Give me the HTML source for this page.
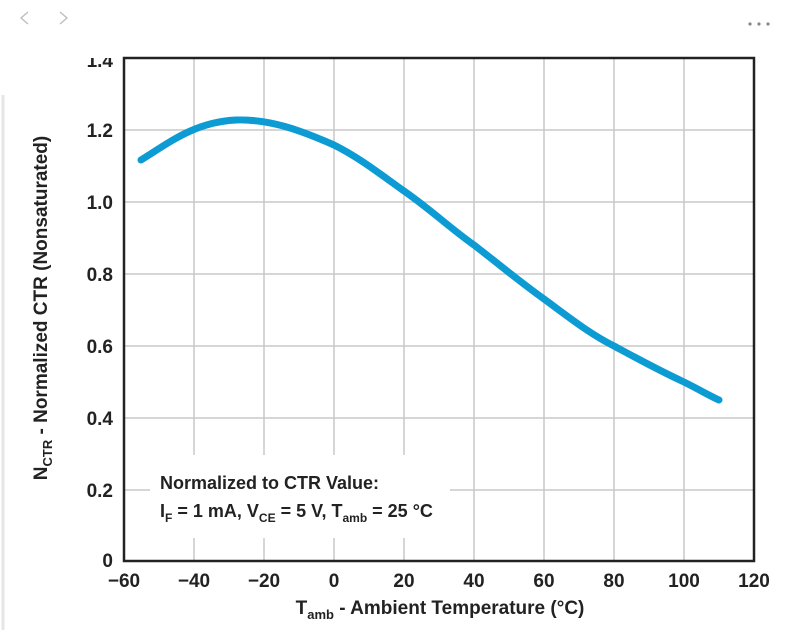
<!DOCTYPE html>
<html><head><style>
body{margin:0;background:#fff;width:791px;height:630px;overflow:hidden}
svg{display:block}
text{font-family:"Liberation Sans Narrow","Liberation Sans",sans-serif;font-weight:bold;fill:#222}
</style></head><body>
<svg width="791" height="630" viewBox="0 0 791 630">
<g stroke="#c8c8c8" stroke-width="1.5">
<line x1="194" y1="58" x2="194" y2="561"/><line x1="264" y1="58" x2="264" y2="561"/>
<line x1="334" y1="58" x2="334" y2="561"/><line x1="404" y1="58" x2="404" y2="561"/>
<line x1="474" y1="58" x2="474" y2="561"/><line x1="544" y1="58" x2="544" y2="561"/>
<line x1="614" y1="58" x2="614" y2="561"/><line x1="684" y1="58" x2="684" y2="561"/>
<line x1="124" y1="130" x2="754" y2="130"/><line x1="124" y1="202" x2="754" y2="202"/>
<line x1="124" y1="274" x2="754" y2="274"/><line x1="124" y1="346" x2="754" y2="346"/>
<line x1="124" y1="418" x2="754" y2="418"/><line x1="124" y1="490" x2="754" y2="490"/>
</g>
<rect x="150" y="455" width="300" height="83" fill="#fff"/>
<rect x="124" y="58" width="630" height="503" fill="none" stroke="#222" stroke-width="2.5"/>
<path d="M141,160 C170,142 195,122 236,120 C270,119 300,130 334,145 C360,158 380,174 404,191 C430,209 450,228 474,245 C500,265 520,282 544,299 C570,318 590,334 614,346 C640,360 660,371 684,382 C700,390 710,396 719,400" fill="none" stroke="#0c9bd3" stroke-width="7" stroke-linecap="round"/>
<g font-size="19" text-anchor="end">
<text x="113" y="67">1.4</text><text x="113" y="137">1.2</text><text x="113" y="209">1.0</text>
<text x="113" y="281">0.8</text><text x="113" y="353">0.6</text><text x="113" y="425">0.4</text>
<text x="113" y="497">0.2</text><text x="113" y="567">0</text>
</g>
<rect x="70" y="0" width="50" height="58" fill="#fff"/>
<polyline points="28,12 21,18 28,24" fill="none" stroke="#bbb" stroke-width="1.3"/>
<polyline points="60,12 67,18 60,24" fill="none" stroke="#bbb" stroke-width="1.3"/>
<circle cx="750" cy="24" r="1.6" fill="#888"/><circle cx="759" cy="24" r="1.6" fill="#888"/><circle cx="768" cy="24" r="1.6" fill="#888"/>
<line x1="3" y1="95" x2="3" y2="630" stroke="#e6e6e6" stroke-width="3"/>
<g font-size="19" text-anchor="middle">
<text x="124" y="587">−60</text><text x="194" y="587">−40</text><text x="264" y="587">−20</text>
<text x="334" y="587">0</text><text x="404" y="587">20</text><text x="474" y="587">40</text>
<text x="544" y="587">60</text><text x="614" y="587">80</text><text x="684" y="587">100</text><text x="754" y="587">120</text>
</g>
<text x="440" y="614" font-size="19" text-anchor="middle">T<tspan font-size="13" dy="5">amb</tspan><tspan dy="-5"> - Ambient Temperature (°C)</tspan></text>
<text transform="translate(47,308) rotate(-90)" font-size="19" text-anchor="middle">N<tspan font-size="13" dy="5">CTR</tspan><tspan dy="-5"> - Normalized CTR (Nonsaturated)</tspan></text>
<text x="160" y="489" font-size="18">Normalized to CTR Value:</text>
<text x="160" y="517" font-size="18">I<tspan font-size="12" dy="5">F</tspan><tspan dy="-5"> = 1 mA, V</tspan><tspan font-size="12" dy="5">CE</tspan><tspan dy="-5"> = 5 V, T</tspan><tspan font-size="12" dy="5">amb</tspan><tspan dy="-5"> = 25 °C</tspan></text>
</svg>
</body></html>
